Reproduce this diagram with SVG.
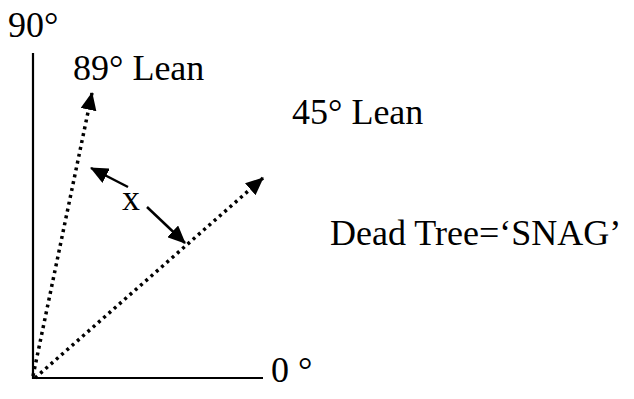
<svg xmlns="http://www.w3.org/2000/svg" width="634" height="399" viewBox="0 0 634 399">
<style>
text{font-family:"Liberation Serif","Times New Roman",serif;font-size:36px;fill:#000}
.axis{stroke:#000;stroke-width:2.2;fill:none}
.dot{stroke:#000;stroke-width:3.5;stroke-dasharray:3 4;fill:none}
.sol{stroke:#000;stroke-width:2.5;fill:none}
</style>
<defs>
<marker id="ah" markerUnits="userSpaceOnUse" markerWidth="20" markerHeight="16" refX="17" refY="8" orient="auto">
<path d="M0,0 L18,8 L0,16 Z" fill="#000"/>
</marker>
</defs>
<g id="axes">
<line class="axis" x1="33" y1="53" x2="33" y2="379"/>
<line class="axis" x1="32" y1="378" x2="263" y2="378"/>
</g>
<g id="connectors">
<line class="dot" x1="33" y1="376" x2="92" y2="93" marker-end="url(#ah)"/>
<line class="dot" x1="35" y1="378" x2="263" y2="178" marker-end="url(#ah)"/>
<line class="sol" x1="128" y1="187" x2="91" y2="168" marker-end="url(#ah)"/>
<line class="sol" x1="147" y1="207" x2="185" y2="243" marker-end="url(#ah)"/>
</g>
<g id="labels">
<text x="8" y="37">90°</text>
<text x="73" y="80">89° Lean</text>
<text x="292" y="124">45° Lean</text>
<text x="122" y="210">x</text>
<text x="330" y="245">Dead Tree=‘SNAG’</text>
<text x="271" y="382">0 °</text>
</g>
</svg>
